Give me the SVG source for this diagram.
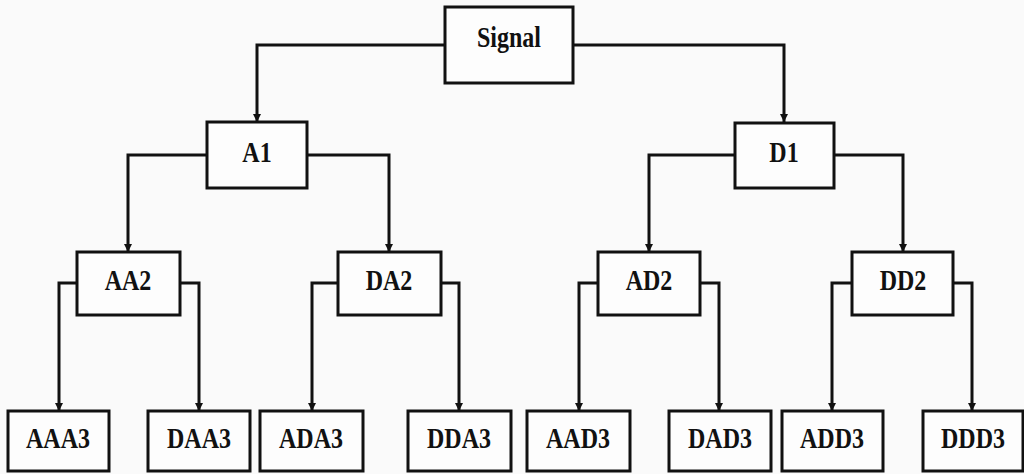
<svg xmlns="http://www.w3.org/2000/svg" width="1024" height="474" viewBox="0 0 1024 474">
  <style>
    .box { fill: #fdfdfd; stroke: #111; stroke-width: 3; }
    .lbl { font-family: "Liberation Serif", "Times New Roman", serif; font-weight: bold; font-size: 24px; fill: #111; text-anchor: middle; }
    .wire { fill: none; stroke: #111; stroke-width: 3; marker-end: url(#tip); }
  </style>
  <defs>
    <marker id="tip" viewBox="0 0 8 10" refX="8" refY="5" markerWidth="8" markerHeight="10" markerUnits="userSpaceOnUse" orient="auto">
      <path d="M0,1 L8,5 L0,9 Z" fill="#111"/>
    </marker>
  </defs>
  <rect width="1024" height="474" fill="#fafafa"/>

  <g id="connectors">
    <path class="wire" d="M445,45 H257 V122"/>
    <path class="wire" d="M573,45 H784 V122"/>
    <path class="wire" d="M207,155 H128 V252"/>
    <path class="wire" d="M307,155 H389 V252"/>
    <path class="wire" d="M735,155 H649 V252"/>
    <path class="wire" d="M834,155 H903 V252"/>
    <path class="wire" d="M77,283 H59 V411"/>
    <path class="wire" d="M180,283 H199 V411"/>
    <path class="wire" d="M338,283 H312 V411"/>
    <path class="wire" d="M441,283 H459 V411"/>
    <path class="wire" d="M598,283 H579 V411"/>
    <path class="wire" d="M700,283 H719 V411"/>
    <path class="wire" d="M852,283 H832 V411"/>
    <path class="wire" d="M953,283 H972 V411"/>
  </g>

  <g id="signal"><rect class="box" x="445" y="7" width="128" height="76"/><text class="lbl" transform="translate(509,47) scale(1,1.25)">Signal</text></g>
  <g id="a1"><rect class="box" x="207" y="122" width="100" height="66"/><text class="lbl" transform="translate(257,162) scale(1,1.25)">A1</text></g>
  <g id="d1"><rect class="box" x="735" y="123" width="99" height="65"/><text class="lbl" transform="translate(784,162) scale(1,1.25)">D1</text></g>

  <g id="aa2"><rect class="box" x="77" y="252" width="103" height="63"/><text class="lbl" transform="translate(128,290) scale(1,1.25)">AA2</text></g>
  <g id="da2"><rect class="box" x="338" y="252" width="103" height="63"/><text class="lbl" transform="translate(389,290) scale(1,1.25)">DA2</text></g>
  <g id="ad2"><rect class="box" x="598" y="252" width="102" height="63"/><text class="lbl" transform="translate(649,290) scale(1,1.25)">AD2</text></g>
  <g id="dd2"><rect class="box" x="852" y="252" width="101" height="63"/><text class="lbl" transform="translate(903,290) scale(1,1.25)">DD2</text></g>

  <g id="aaa3"><rect class="box" x="8" y="411" width="101" height="60"/><text class="lbl" transform="translate(58,448) scale(1,1.25)">AAA3</text></g>
  <g id="daa3"><rect class="box" x="148" y="411" width="102" height="60"/><text class="lbl" transform="translate(199,448) scale(1,1.25)">DAA3</text></g>
  <g id="ada3"><rect class="box" x="260" y="411" width="103" height="60"/><text class="lbl" transform="translate(311,448) scale(1,1.25)">ADA3</text></g>
  <g id="dda3"><rect class="box" x="408" y="411" width="103" height="60"/><text class="lbl" transform="translate(459,448) scale(1,1.25)">DDA3</text></g>
  <g id="aad3"><rect class="box" x="527" y="411" width="103" height="60"/><text class="lbl" transform="translate(578,448) scale(1,1.25)">AAD3</text></g>
  <g id="dad3"><rect class="box" x="669" y="411" width="102" height="60"/><text class="lbl" transform="translate(720,448) scale(1,1.25)">DAD3</text></g>
  <g id="add3"><rect class="box" x="782" y="411" width="101" height="60"/><text class="lbl" transform="translate(832,448) scale(1,1.25)">ADD3</text></g>
  <g id="ddd3"><rect class="box" x="923" y="411" width="100" height="60"/><text class="lbl" transform="translate(973,448) scale(1,1.25)">DDD3</text></g>
</svg>
